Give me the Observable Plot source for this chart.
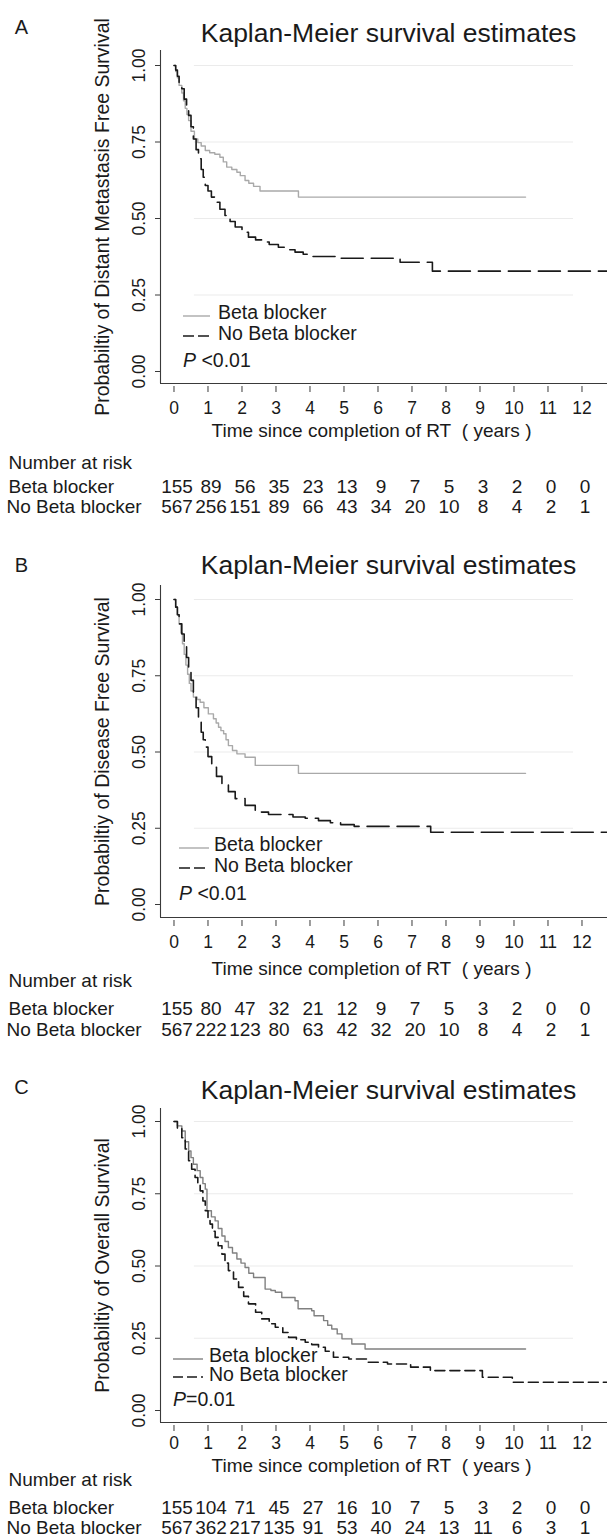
<!DOCTYPE html>
<html><head><meta charset="utf-8">
<script src="https://cdn.jsdelivr.net/npm/d3@7"></script>
<script src="https://cdn.jsdelivr.net/npm/@observablehq/plot@0.6"></script>
<style>
body{margin:0;background:#fff;}
#chart{width:607px;}
#chart svg{display:block;}
</style></head><body><div id="chart"></div>
<script>
// ---------- data ----------
const panelLetters = ["A", "B", "C"];
const chartTitle = "Kaplan-Meier survival estimates";
const yTitles = [
  "Probabiltiy of Distant Metastasis Free Survival",
  "Probabiltiy of Disease Free Survival",
  "Probabiltiy of Overall Survival"
];
const xTitle = "Time since completion of RT\u00a0 ( years )";
const groups = ["Beta blocker", "No Beta blocker"];
const pValues = [" <0.01", " <0.01", "=0.01"];
const riskHeader = "Number at risk";
const xTicks = [0, 1, 2, 3, 4, 5, 6, 7, 8, 9, 10, 11, 12];
const yTicks = [0, 0.25, 0.5, 0.75, 1];
const gridTicks = [0.25, 0.5, 0.75, 1];

const riskA_beta = [155, 89, 56, 35, 23, 13, 9, 7, 5, 3, 2, 0, 0];
const riskA_no   = [567, 256, 151, 89, 66, 43, 34, 20, 10, 8, 4, 2, 1];
const riskB_beta = [155, 80, 47, 32, 21, 12, 9, 7, 5, 3, 2, 0, 0];
const riskB_no   = [567, 222, 123, 80, 63, 42, 32, 20, 10, 8, 4, 2, 1];
const riskC_beta = [155, 104, 71, 45, 27, 16, 10, 7, 5, 3, 2, 0, 0];
const riskC_no   = [567, 362, 217, 135, 91, 53, 40, 24, 13, 11, 6, 3, 1];

// Kaplan-Meier step points (time in years, survival probability)
const kmA_beta_t = [0,0.05,0.1,0.15,0.23,0.28,0.33,0.38,0.43,0.5,0.6,0.7,0.8,0.92,1.05,1.2,1.35,1.45,1.55,1.7,1.85,1.95,2.09,2.2,2.34,2.53,3.66,10.34];
const kmA_beta_s = [1,0.98,0.96,0.935,0.91,0.885,0.86,0.84,0.82,0.785,0.76,0.748,0.737,0.722,0.715,0.71,0.7,0.685,0.668,0.66,0.651,0.64,0.624,0.615,0.605,0.59,0.57,0.57];
const kmA_no_t = [0,0.05,0.1,0.15,0.23,0.3,0.37,0.43,0.5,0.57,0.65,0.72,0.8,0.86,0.92,1.0,1.1,1.21,1.35,1.5,1.65,1.8,2.0,2.19,2.4,2.58,2.8,3.07,3.3,3.56,3.8,4.05,4.84,6.65,7.6,12.75];
const kmA_no_s = [1,0.985,0.965,0.945,0.924,0.89,0.865,0.837,0.8,0.76,0.725,0.695,0.66,0.635,0.608,0.59,0.57,0.553,0.53,0.51,0.49,0.472,0.455,0.439,0.43,0.423,0.415,0.406,0.398,0.39,0.383,0.376,0.37,0.357,0.328,0.328];

const kmB_beta_t = [0,0.05,0.1,0.15,0.2,0.25,0.3,0.35,0.4,0.45,0.5,0.57,0.68,0.77,0.88,1.01,1.16,1.24,1.31,1.38,1.46,1.53,1.6,1.72,1.85,2.09,2.39,3.66,10.34];
const kmB_beta_s = [1,0.975,0.95,0.92,0.89,0.855,0.82,0.785,0.755,0.725,0.7,0.68,0.672,0.663,0.645,0.625,0.609,0.595,0.581,0.57,0.56,0.54,0.521,0.505,0.494,0.483,0.456,0.43,0.43];
const kmB_no_t = [0,0.05,0.1,0.15,0.23,0.3,0.37,0.43,0.5,0.57,0.65,0.72,0.8,0.86,0.92,1.0,1.11,1.25,1.41,1.6,1.8,2.09,2.39,2.78,3.5,3.86,4.25,4.6,4.9,5.3,7.55,12.75];
const kmB_no_s = [1,0.975,0.95,0.92,0.887,0.85,0.81,0.778,0.735,0.69,0.645,0.603,0.565,0.54,0.516,0.485,0.45,0.42,0.395,0.37,0.347,0.325,0.303,0.295,0.287,0.283,0.275,0.268,0.262,0.256,0.237,0.237];

const kmC_beta_t = [0,0.1,0.23,0.33,0.43,0.5,0.57,0.68,0.77,0.85,0.92,0.97,1.1,1.21,1.3,1.41,1.5,1.6,1.72,1.85,1.97,2.09,2.2,2.34,2.68,2.85,2.98,3.17,3.56,3.65,4.05,4.12,4.4,4.52,4.64,4.8,4.94,5.23,5.62,10.34];
const kmC_beta_s = [1,0.985,0.967,0.93,0.898,0.875,0.852,0.83,0.806,0.785,0.766,0.691,0.67,0.656,0.63,0.604,0.585,0.564,0.545,0.524,0.51,0.495,0.475,0.46,0.42,0.415,0.409,0.391,0.38,0.352,0.345,0.328,0.311,0.295,0.282,0.265,0.248,0.23,0.213,0.213];
const kmC_no_t = [0,0.1,0.23,0.33,0.43,0.52,0.62,0.7,0.77,0.85,0.92,1.0,1.06,1.13,1.21,1.3,1.41,1.5,1.6,1.75,1.9,2.05,2.19,2.4,2.58,2.8,2.98,3.2,3.37,3.6,3.86,4.05,4.25,4.45,4.69,5.14,5.71,6.28,6.96,7.54,9.07,9.95,12.75];
const kmC_no_s = [1,0.975,0.944,0.905,0.864,0.835,0.806,0.785,0.76,0.725,0.691,0.668,0.645,0.62,0.599,0.57,0.541,0.51,0.484,0.455,0.426,0.395,0.369,0.34,0.317,0.3,0.288,0.27,0.253,0.245,0.236,0.228,0.219,0.205,0.184,0.178,0.167,0.161,0.15,0.138,0.115,0.098,0.098];

// ---------- layout / style (pixels within each panel svg) ----------
const FONT = "'Liberation Sans', Arial, Helvetica, sans-serif";
const INK = "#1a1a1a";
const xDomain = [-0.397, 12.75];
const layouts = [
  {height: 532, axisTop: 50, y1: 65, y0: 371, frameBottom: 383, titleY: 33, letterY: 27,
   tickLblY: 408, xTitleY: 430, narY: 462, row1Y: 486, row2Y: 506,
   leg: {y1: 312, y2: 333, pY: 360, lx1: 183, lx2: 210, tx: 218},
   dash: "22,8", legDash: "11,4", betaColor: "#a9a9a9"},
  {height: 525, axisTop: 53, y1: 67, y0: 372, frameBottom: 385, titleY: 33, letterY: 33,
   tickLblY: 410, xTitleY: 436, narY: 448, row1Y: 476, row2Y: 497,
   leg: {y1: 312, y2: 333, pY: 361, lx1: 179, lx2: 209, tx: 214},
   dash: "22,8", legDash: "11,4", betaColor: "#a9a9a9"},
  {height: 482, axisTop: 51, y1: 64, y0: 353, frameBottom: 365, titleY: 33, letterY: 30,
   tickLblY: 386, xTitleY: 408, narY: 422, row1Y: 450, row2Y: 470,
   leg: {y1: 298, y2: 317, pY: 342, lx1: 173, lx2: 203, tx: 209},
   dash: "10,5", legDash: "10,4", betaColor: "#808080"}
];

const risks = [[riskA_beta, riskA_no], [riskB_beta, riskB_no], [riskC_beta, riskC_no]];
const kms = [
  [[kmA_beta_t, kmA_beta_s], [kmA_no_t, kmA_no_s]],
  [[kmB_beta_t, kmB_beta_s], [kmB_no_t, kmB_no_s]],
  [[kmC_beta_t, kmC_beta_s], [kmC_no_t, kmC_no_s]]
];

function toRows(ts, ss) { return ts.map((t, i) => ({t, s: ss[i]})); }

function legendMark(L, i) {
  return () => {
    const g = d3.create("svg:g").attr("font-size", 19.5).attr("fill", INK).attr("text-anchor", "start");
    const lg = L.leg;
    g.append("line").attr("x1", lg.lx1).attr("x2", lg.lx2).attr("y1", lg.y1 + 4).attr("y2", lg.y1 + 4)
      .attr("stroke", L.betaColor).attr("stroke-width", 1.4);
    g.append("text").attr("x", lg.tx).attr("y", lg.y1).attr("dy", "0.35em").text(groups[0]);
    g.append("line").attr("x1", lg.lx1).attr("x2", lg.lx2).attr("y1", lg.y2 + 3).attr("y2", lg.y2 + 3)
      .attr("stroke", INK).attr("stroke-width", 1.6).attr("stroke-dasharray", L.legDash);
    g.append("text").attr("x", lg.tx).attr("y", lg.y2).attr("dy", "0.35em").text(groups[1]);
    const p = g.append("text").attr("x", lg.lx1).attr("y", lg.pY).attr("dy", "0.35em");
    p.append("tspan").attr("font-style", "italic").text("P");
    p.append("tspan").text(pValues[i]);
    return g.node();
  };
}

function panel(i) {
  const L = layouts[i];
  const pxPerUnit = L.y0 - L.y1;
  const yDomain = [-(L.frameBottom - L.y0) / pxPerUnit, 1 + (L.y1 - L.axisTop) / pxPerUnit];
  const frameW = 607 - 160;
  const frameH = L.frameBottom - L.axisTop;
  const [betaKM, noKM] = kms[i];
  const [riskBeta, riskNo] = risks[i];
  const riskRows = (arr) => xTicks.map((t, k) => ({t, n: arr[k]}));
  const fb = L.frameBottom;
  const M = {lineAnchor: "middle", textAnchor: "middle"};
  const S = {lineAnchor: "middle", textAnchor: "start"};
  const rowFs = 19;
  return Plot.plot({
    width: 607,
    height: L.height,
    marginLeft: 160, marginRight: 0,
    marginTop: L.axisTop, marginBottom: L.height - L.frameBottom,
    x: {domain: xDomain, axis: null},
    y: {domain: yDomain, axis: null},
    style: {fontFamily: FONT, fontSize: "17px", color: INK, background: "#fff", overflow: "visible"},
    marks: [
      // faint grid
      Plot.ruleY(gridTicks, {y: d => d, x1: 0.6, x2: 11.75, stroke: "#ebebeb", strokeWidth: 1.2}),
      // frame (left + bottom)
      Plot.ruleX([xDomain[0]], {stroke: "#3a3a3a", strokeWidth: 1.1}),
      Plot.ruleY([yDomain[0]], {stroke: "#3a3a3a", strokeWidth: 1.1}),
      // y ticks and labels
      Plot.tickY(yTicks, {y: d => d, insetLeft: -5, insetRight: frameW, stroke: "#3a3a3a"}),
      Plot.text(yTicks, {...M, y: d => d, frameAnchor: "left", dx: -21.6, rotate: -90,
        text: d => d.toFixed(2), fontSize: 17.5}),
      // x ticks and labels
      Plot.tickX(xTicks, {x: d => d, insetTop: frameH + 3, insetBottom: -9, stroke: "#3a3a3a"}),
      Plot.text(xTicks, {...M, x: d => d, frameAnchor: "bottom", dy: L.tickLblY - fb, text: d => String(d), fontSize: 17.5}),
      // axis titles
      Plot.text([yTitles[i]], {...M, frameAnchor: "left", dx: -57.4, rotate: -90, text: d => d, fontSize: 19.5}),
      Plot.text([xTitle], {...M, frameAnchor: "bottom", dx: -12.5, dy: L.xTitleY - fb, text: d => d, fontSize: 19}),
      // chart title and panel letter
      Plot.text([chartTitle], {...M, frameAnchor: "top", dx: 4.5, dy: L.titleY - L.axisTop, text: d => d, fontSize: 26.5}),
      Plot.text([panelLetters[i]], {...M, frameAnchor: "top-left", dx: 21 - 160, dy: L.letterY - L.axisTop, text: d => d, fontSize: 20}),
      // survival curves
      Plot.line(toRows(...betaKM), {x: "t", y: "s", curve: "step-after", stroke: L.betaColor, strokeWidth: 1.4}),
      Plot.line(toRows(...noKM), {x: "t", y: "s", curve: "step-after", stroke: INK, strokeWidth: 1.6, strokeDasharray: L.dash}),
      // legend
      legendMark(L, i),
      // number at risk table
      Plot.text([riskHeader], {...S, frameAnchor: "bottom-left", dx: 8 - 160, dy: L.narY - fb, text: d => d, fontSize: rowFs}),
      Plot.text([groups[0]], {...S, frameAnchor: "bottom-left", dx: 8 - 160, dy: L.row1Y - fb, text: d => d, fontSize: rowFs}),
      Plot.text([groups[1]], {...S, frameAnchor: "bottom-left", dx: 6 - 160, dy: L.row2Y - fb, text: d => d, fontSize: rowFs}),
      Plot.text(riskRows(riskBeta), {...M, x: "t", frameAnchor: "bottom", dx: 3, dy: L.row1Y - fb, text: d => String(d.n), fontSize: rowFs}),
      Plot.text(riskRows(riskNo), {...M, x: "t", frameAnchor: "bottom", dx: 3, dy: L.row2Y - fb, text: d => String(d.n), fontSize: rowFs})
    ]
  });
}

const root = document.getElementById("chart");
for (let i = 0; i < 3; i++) root.appendChild(panel(i));
</script>
</body></html>
